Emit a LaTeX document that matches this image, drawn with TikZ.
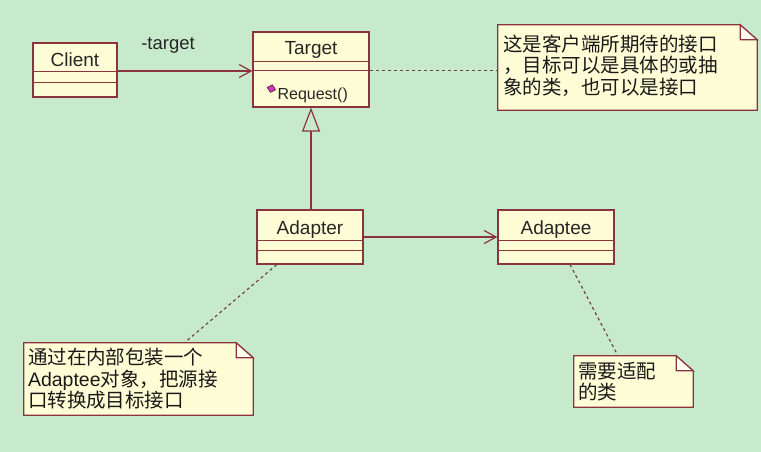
\documentclass[tikz,border=0pt]{standalone}
\usepackage{fontspec}
\setmainfont{Liberation Sans}
\newfontfamily\cjk{Noto Sans CJK SC}
\usepackage{xcolor}
\usepackage{tikz}
\usetikzlibrary{positioning,shapes.geometric,arrows.meta,calc}

\definecolor{bgcol}{RGB}{200,234,204}
\definecolor{boxfill}{RGB}{255,253,214}
\definecolor{boxline}{RGB}{140,52,62}
\definecolor{dotline}{RGB}{110,70,70}
\definecolor{opdiamond}{RGB}{204,51,204}

\newcommand{\compartments}[3]{%
  \draw[boxline, line width=1.2pt] ([yshift=-#2pt]#1.north west) -- ([yshift=-#2pt]#1.north east);
  \draw[boxline, line width=1.2pt] ([yshift=-#3pt]#1.north west) -- ([yshift=-#3pt]#1.north east);
}
\newcommand{\drawnote}[1]{%
  \filldraw[boxline, fill=boxfill, line width=1.2pt] (#1.north west) -- ([xshift=-17pt]#1.north east)
    -- ([yshift=-15pt]#1.north east) -- (#1.south east) -- (#1.south west) -- cycle;
  \filldraw[boxline, fill=white!60!boxfill, line width=1.2pt] ([xshift=-17pt]#1.north east)
    -- ([yshift=-15pt]#1.north east) -- ([xshift=-17pt,yshift=-15pt]#1.north east) -- cycle;
}

\begin{document}
\begin{tikzpicture}[x=1pt, y=-1pt,
    classbox/.style={draw=boxline, fill=boxfill, line width=1.2pt, inner sep=0pt, minimum height=54pt},
    classname/.style={anchor=base, font=\fontsize{19}{21}\selectfont, text=black!85, inner sep=0pt},
    notebox/.style={inner sep=0pt},
    notetext/.style={anchor=west, align=left, inner sep=0pt, text=black!90,
      font=\fontsize{19.5}{21.5}\selectfont\cjk},
    assoc/.style={draw=boxline, line width=1.2pt, -{Straight Barb[length=12pt,width=13pt]}},
    realize/.style={draw=boxline, line width=1.2pt, -{Triangle[length=24pt,width=18pt,fill=bgcol]}},
    noteline/.style={draw=dotline, line width=1.2pt, dash pattern=on 3pt off 3pt}]
\path[use as bounding box, fill=bgcol] (0,0) rectangle (761,452);

% classes
\node[classbox, minimum width=84pt] (client) at (75,70) {};
\node[classname] (clientname) at ([yshift=-24pt]client.north) {Client};
\compartments{client}{29}{40}

\node[classbox, minimum width=116pt, minimum height=75pt] (target) at (311,69.5) {};
\node[classname] (targetname) at ([yshift=-23pt]target.north) {Target};
\compartments{target}{30}{39}
\node[diamond, draw=boxline!70!black, fill=opdiamond, inner sep=0pt, minimum width=9pt, minimum height=8pt,
  line width=0.6pt, rotate=-15] (reqicon) at ([xshift=19pt,yshift=19pt]target.south west) {};
\node[anchor=base west, inner sep=0pt, font=\fontsize{16}{18}\selectfont, text=black!85]
  (request) at ([xshift=25pt,yshift=8pt]target.south west) {Request()};

\node[classbox, minimum width=106pt] (adapter) at (310,237) {};
\node[classname] (adaptername) at ([yshift=-25pt]adapter.north) {Adapter};
\compartments{adapter}{31}{41}

\node[classbox, minimum width=116pt] (adaptee) at (556,237) {};
\node[classname] (adapteename) at ([yshift=-25pt]adaptee.north) {Adaptee};
\compartments{adaptee}{31}{41}

% relations
\draw[assoc] ([yshift=-1pt]client.east) -- ([yshift=-1pt]client.east -| target.west);
\node[anchor=base, inner sep=0pt, font=\fontsize{18.5}{20}\selectfont, text=black!85]
  (rolename) at (168,50) {-target};
\draw[realize] ([xshift=1pt]adapter.north) -- ([xshift=1pt]adapter.north |- target.south);
\draw[assoc] (adapter.east) -- (adaptee.west);

% notes
\node[notebox, minimum width=259pt, minimum height=85pt] (note1) at (627.5,67.5) {};
\drawnote{note1}
\node[notetext] (note1txt) at ([xshift=5pt,yshift=2pt]note1.west)
  {这是客户端所期待的接口\\，目标可以是具体的或抽\\象的类，也可以是接口};

\node[notebox, minimum width=229pt, minimum height=72pt] (note2) at (138.5,379) {};
\drawnote{note2}
\node[notetext] (note2txt) at ([xshift=4pt]note2.west)
  {通过在内部包装一个\\{\rmfamily Adaptee}对象，把源接\\口转换成目标接口};

\node[notebox, minimum width=119pt, minimum height=51pt] (note3) at (633.5,381.5) {};
\drawnote{note3}
\node[notetext] (note3txt) at ([xshift=4pt]note3.west) {需要适配\\的类};

\draw[noteline] ([yshift=-1pt]target.east) -- ([yshift=-1pt]target.east -| note1.west);
\draw[noteline] ($(adapter.south west)!0.19!(adapter.south east)$) -- ($(note2.north west)!0.70!(note2.north east)$);
\draw[noteline] ($(adaptee.south west)!0.62!(adaptee.south east)$) -- ($(note3.north west)!0.37!(note3.north east)$);
\end{tikzpicture}
\end{document}
